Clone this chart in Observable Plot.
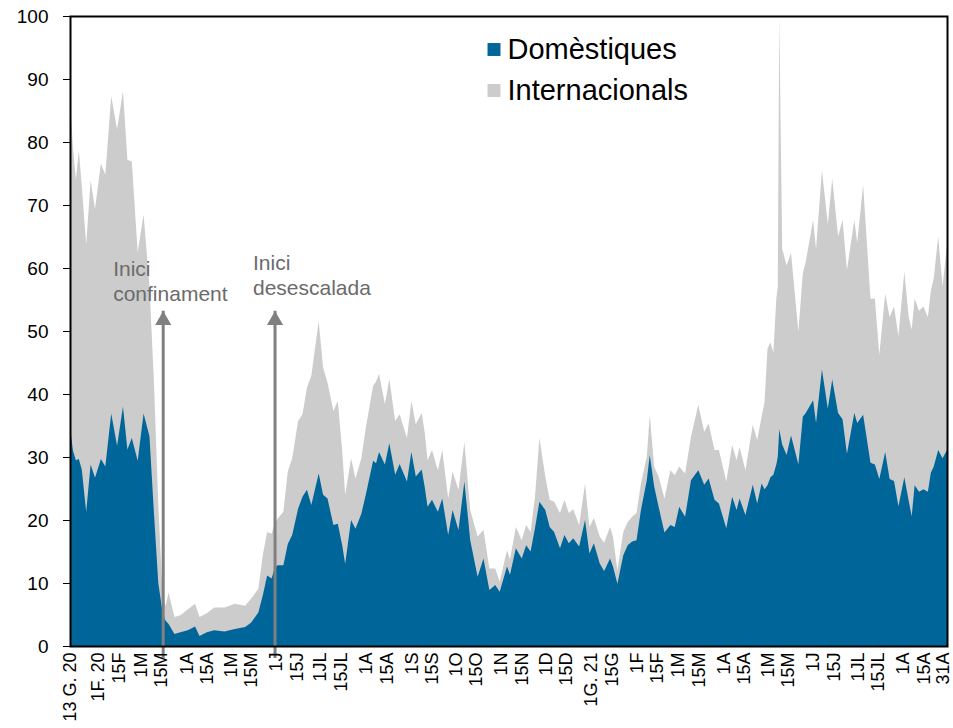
<!DOCTYPE html>
<html>
<head>
<meta charset="utf-8">
<script src="https://cdn.jsdelivr.net/npm/d3@7"></script>
<script src="https://cdn.jsdelivr.net/npm/@observablehq/plot@0.6"></script>
<style>
  html, body { margin: 0; padding: 0; background: #fff; }
  #chart svg { font-family: "Liberation Sans", Arial, sans-serif; display: block; }
</style>
</head>
<body>
<div id="chart"></div>
<script>
const dates = [
"2020-01-13","2020-01-15","2020-01-17","2020-01-19","2020-01-21","2020-01-24","2020-01-27","2020-01-30",
"2020-02-03","2020-02-06","2020-02-10","2020-02-14","2020-02-18","2020-02-21","2020-02-24","2020-02-28",
"2020-03-03","2020-03-07","2020-03-10","2020-03-13","2020-03-16","2020-03-18","2020-03-20","2020-03-24",
"2020-03-28","2020-04-02","2020-04-07","2020-04-10","2020-04-15","2020-04-20","2020-04-27","2020-05-04",
"2020-05-11","2020-05-15","2020-05-20","2020-05-23","2020-05-26","2020-05-29","2020-05-31","2020-06-02",
"2020-06-06","2020-06-09","2020-06-12","2020-06-16","2020-06-19","2020-06-22","2020-06-25","2020-06-30",
"2020-07-03","2020-07-06","2020-07-10","2020-07-13","2020-07-16","2020-07-18","2020-07-22","2020-07-25",
"2020-07-29","2020-08-01","2020-08-06","2020-08-08","2020-08-10","2020-08-14","2020-08-17","2020-08-21",
"2020-08-24","2020-08-29","2020-09-01","2020-09-04","2020-09-08","2020-09-10","2020-09-12","2020-09-15",
"2020-09-19","2020-09-22","2020-09-26","2020-09-29","2020-10-03","2020-10-07","2020-10-11","2020-10-16",
"2020-10-20","2020-10-24","2020-10-28","2020-10-31","2020-11-05","2020-11-07","2020-11-11","2020-11-15",
"2020-11-18","2020-11-21","2020-11-24","2020-11-27","2020-12-01","2020-12-04","2020-12-07","2020-12-11",
"2020-12-14","2020-12-17","2020-12-20","2020-12-24","2020-12-28","2020-12-31","2021-01-03","2021-01-07",
"2021-01-10","2021-01-14","2021-01-16","2021-01-19","2021-01-23","2021-01-26","2021-01-29","2021-02-01",
"2021-02-04","2021-02-08","2021-02-10","2021-02-13","2021-02-16","2021-02-20","2021-02-24","2021-02-27",
"2021-03-02","2021-03-06","2021-03-10","2021-03-15","2021-03-19","2021-03-22","2021-03-26","2021-03-29",
"2021-04-03","2021-04-07","2021-04-10","2021-04-12","2021-04-16","2021-04-21","2021-04-24","2021-04-27",
"2021-04-29","2021-05-01","2021-05-03","2021-05-05","2021-05-07","2021-05-08","2021-05-09","2021-05-11",
"2021-05-14","2021-05-17","2021-05-22","2021-05-25","2021-05-27","2021-06-01","2021-06-03","2021-06-07",
"2021-06-11","2021-06-14","2021-06-18","2021-06-21","2021-06-24","2021-06-29","2021-07-01","2021-07-05",
"2021-07-10","2021-07-13","2021-07-16","2021-07-20","2021-07-23","2021-07-26","2021-07-29","2021-08-02",
"2021-08-05","2021-08-07","2021-08-09","2021-08-12","2021-08-15","2021-08-18","2021-08-20","2021-08-22",
"2021-08-25","2021-08-28","2021-08-31"
];

// Top of the stack (Domèstiques + Internacionals)
const totalValues = [
87,79,74,78.7,73,63.7,73.9,69.4,
76.6,74.8,87.3,82,88.1,77.2,76.9,62.5,
68.5,57.2,42.2,22.5,7.6,6.4,8.5,4.6,
4.9,5.8,6.7,4.6,5.2,6.1,6.1,6.7,
6.4,7.5,9.1,14.4,18.1,17.8,19.5,20.2,
21.3,27.7,29.8,35.7,36.8,41,42.9,51.6,
44.2,41.8,37.3,38.9,30.9,24,29.8,26.6,
29.8,34.6,41.3,42,43.2,38.4,42.4,35.7,
36.8,33,38.9,35.2,37,34,29.5,31.1,
27.9,31.1,23.4,27.7,24.8,32.4,21.6,17.4,
18.4,12.3,12.3,10.2,15.2,13.7,18.9,16.8,
19.2,18.1,23.7,33,26.9,23.2,22.9,21.1,
23.2,21.1,21.7,19.2,25.8,18.9,20.3,17.4,
16.4,18.9,17.4,12,18.1,19.7,20.5,21.1,
25.8,30.1,36.7,28.5,26.9,23.4,27.9,27.1,
28.5,27.4,33.2,38.3,34,35.3,31.1,31.1,
26.1,31.9,29.5,31.6,27.9,35.1,32.7,36.4,
38.7,47.2,48.2,46.6,55.1,57,100,63,
60.4,62.4,49.9,59.1,61,67.6,63,75.5,
67,74.2,65,67.6,59.7,67.6,64,73.2,
55.1,55.1,46.2,55.9,52.2,53.9,49.2,59.4,
52.2,50.2,55.1,53.2,53.9,52.2,56.4,58.4,
65,57.1,63.7
];

// Domèstiques
const domesticValues = [
34.8,31,29.5,29.7,28,21.3,28.8,26.7,
29.7,28.5,36.9,31.8,38,31.2,33,29.4,
36.9,33.3,21.3,10,5.2,4,3.5,1.9,
2.2,2.5,3.1,1.6,2.2,2.5,2.3,2.7,
3,3.7,5.3,8,11.2,10.7,12.3,12.8,
12.8,16.2,17.6,21.8,23.7,24.8,22.4,27.4,
24,23.4,19.2,19.4,16,13,20,18.6,
21,24,29.4,29,30.8,28.8,32.2,27.2,
28.9,26.1,30.8,26.9,28,25.3,22.1,23.2,
21.3,23.4,17.6,21.6,18.4,26.1,16.8,11,
13.9,8.9,9.7,8.6,12.6,11.3,15.5,13.9,
16,15,18.7,22.9,21.6,18.9,18.1,15.5,
17.6,16.3,17.1,15.8,20,14.7,16.3,13.1,
11.9,13.9,12.6,9.9,14.4,16,16.6,16.8,
21.6,26.3,30.3,25.3,22.1,18,19.2,18.9,
22.1,20.5,26.3,27.9,25.6,26.6,23.2,22.6,
18.7,23.7,21.6,23.4,20.8,25.6,22.6,25.8,
24.9,25.5,26.8,27.2,28.8,30,34.4,32,
30.3,33.4,28.8,36.4,37,39,35.4,43.9,
37.7,42.3,37,36,30.5,37,35.4,36.7,
29.1,28.8,26.5,30.8,26.5,26.2,22.2,26.8,
23,20.6,25.5,24.5,24.9,24.5,27.5,28.5,
31.1,29.8,31.1
];

const seriesNames = ["Domèstiques", "Internacionals"];
const seriesColors = ["#006699", "#cccccc"];

const xTickDates = [
"2020-01-13","2020-02-01","2020-02-15","2020-03-01","2020-03-15","2020-04-01","2020-04-15","2020-05-01",
"2020-05-15","2020-06-01","2020-06-15","2020-07-01","2020-07-15","2020-08-01","2020-08-15","2020-09-01",
"2020-09-15","2020-10-01","2020-10-15","2020-11-01","2020-11-15","2020-12-01","2020-12-15","2021-01-01",
"2021-01-15","2021-02-01","2021-02-15","2021-03-01","2021-03-15","2021-04-01","2021-04-15","2021-05-01",
"2021-05-15","2021-06-01","2021-06-15","2021-07-01","2021-07-15","2021-08-01","2021-08-15","2021-08-31"
];
const xTickLabels = [
"13 G. 20","1F. 20","15F","1M","15M","1A","15A","1M",
"15M","1J","15J","1JL","15JL","1A","15A","1S",
"15S","1O","15O","1N","15N","1D","15D","1G. 21",
"15G","1F","15F","1M","15M","1A","15A","1M",
"15M","1J","15J","1JL","15JL","1A","15A","31A"
];
const yTicks = [0,10,20,30,40,50,60,70,80,90,100];

const annoDates = ["2020-03-16", "2020-05-31"];
const annoArrowTop = [53.2, 53.2];
const annoLabels = ["Inici\nconfinament", "Inici\ndesescalada"];
const annoTextDates = ["2020-02-11", "2020-05-16"];
const annoTextY = [61.6, 62.6];

const parse = d3.utcParse("%Y-%m-%d");
const data = dates.map((d, i) => ({
  date: parse(d),
  total: totalValues[i],
  domestic: domesticValues[i]
}));
const tickDates = xTickDates.map(parse);
const labelMap = new Map(tickDates.map((d, i) => [+d, xTickLabels[i]]));
const mainTicks = tickDates.slice(0, -1);
const lastTick = tickDates.slice(-1);
const arrows = annoDates.map((d, i) => ({date: parse(d), top: annoArrowTop[i]}));
const annos = annoLabels.map((t, i) => ({text: t, date: parse(annoTextDates[i]), y: annoTextY[i]}));

const arrowColor = "#808080";
const annoColor = "#6b6b6b";

const xAxisOpts = {anchor: "bottom", tickSize: 0, tickPadding: 6, tickRotate: -90, fontSize: 18, label: null,
  tickFormat: d => labelMap.get(+d)};

const chart = Plot.plot({
  width: 953,
  height: 728,
  marginLeft: 70,
  marginRight: 6,
  marginTop: 16,
  marginBottom: 82,
  x: {type: "utc", domain: [parse("2020-01-13"), parse("2021-08-31")]},
  y: {domain: [0, 100]},
  style: {fontFamily: "'Liberation Sans', Arial, sans-serif", color: "black", background: "white"},
  marks: [
    Plot.areaY(data, {x: "date", y: "total", fill: seriesColors[1], curve: "linear"}),
    Plot.areaY(data, {x: "date", y: "domestic", fill: seriesColors[0], curve: "linear"}),
    Plot.ruleX(arrows, {x: "date", y1: 0, y2: "top", stroke: arrowColor, strokeWidth: 3, insetTop: 12}),
    Plot.dot(arrows, {x: "date", y: "top", symbol: "triangle", r: 6, fill: arrowColor, stroke: "none", dy: 9}),
    Plot.text(annos, {x: "date", y: "y", text: "text", textAnchor: "start", lineAnchor: "top",
      fontSize: 21, lineHeight: 1.2, fill: annoColor}),
    // legend
    Plot.dot([0], {frameAnchor: "top-left", dx: 423.5, dy: 33, symbol: "square", r: 7.3, fill: seriesColors[0], stroke: "none"}),
    Plot.dot([0], {frameAnchor: "top-left", dx: 423.5, dy: 74, symbol: "square", r: 7.3, fill: seriesColors[1], stroke: "none"}),
    Plot.text([seriesNames[0]], {frameAnchor: "top-left", dx: 437, dy: 33, text: d => d, textAnchor: "start", lineAnchor: "middle", fontSize: 29, fill: "black"}),
    Plot.text([seriesNames[1]], {frameAnchor: "top-left", dx: 437, dy: 74, text: d => d, textAnchor: "start", lineAnchor: "middle", fontSize: 29, fill: "black"}),
    Plot.axisY(yTicks, {anchor: "left", tickSize: 7, tickPadding: 15, fontSize: 19, label: null, tickFormat: d => String(d)}),
    Plot.axisX(mainTicks, xAxisOpts),
    Plot.axisX(lastTick, {...xAxisOpts, dx: -4}),
    Plot.frame({stroke: "black", strokeWidth: 2})
  ]
});
document.getElementById("chart").appendChild(chart);
</script>
</body>
</html>
